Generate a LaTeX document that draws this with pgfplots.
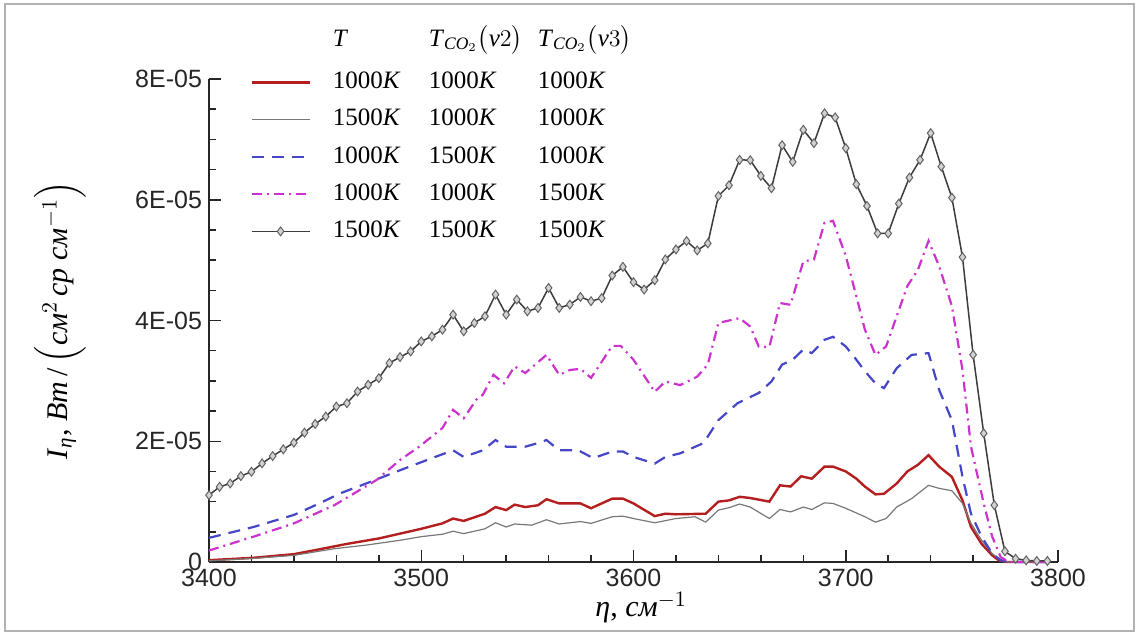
\documentclass[border=0pt]{standalone}
\usepackage{fontspec}
\setmainfont{Liberation Serif}
\newfontfamily\arial{Liberation Sans}
\usepackage{amsmath}
\usepackage{pgfplots}
\pgfplotsset{compat=1.18}

\definecolor{cred}{RGB}{180,30,30}
\definecolor{cgray}{RGB}{120,120,120}
\definecolor{cblue}{RGB}{70,70,200}
\definecolor{cmag}{RGB}{204,51,204}
\definecolor{cblk}{RGB}{60,60,60}

\newcommand{\lrow}[3]{\makebox[48pt][l]{#1}\makebox[54.5pt][l]{#2}#3}
\newcommand{\kk}[1]{#1\textit{K}}

\begin{document}
\begin{tikzpicture}
\useasboundingbox (0pt,0pt) rectangle (569pt,316pt);
\draw[gray!60, line width=1pt] (2.5pt,0.75pt) rectangle (567pt,314pt);
\begin{axis}[
  at={(104.5pt,35pt)}, anchor=south west,
  scale only axis, width=424.5pt, height=241.5pt,
  xmin=3400, xmax=3800, ymin=0, ymax=8,
  axis lines*=left,
  clip=false,
  xtick={3400,3500,3600,3700,3800},
  minor x tick num=4,
  ytick={0,2,4,6,8},
  yticklabels={0,2E-05,4E-05,6E-05,8E-05},
  minor y tick num=3,
  tick align=inside,
  major tick length=6pt, minor tick length=3.5pt,
  axis line style={line width=0.75pt, black!85},
  every tick/.style={line width=0.75pt, black!85},
  /pgf/number format/assume math mode=true,
  /pgf/number format/1000 sep={},
  ticklabel style={font=\arial\fontsize{12.5}{15}\selectfont, text=black!85},
  xlabel={\textit{η}, \textit{см}$^{-1}$},
  ylabel={\textit{I}$_{\textit{η}}$, \textit{Вт}\,/\,$\Big(\textit{см}^{2}\,\textit{ср}\;\textit{см}^{-1}\Big)$},
  label style={font=\fontsize{15}{18}\selectfont},
  xlabel style={at={(axis description cs:0.509,-0.095)}, anchor=center},
  ylabel style={at={(axis description cs:-0.1755,0.5)}, anchor=center},
  legend image code/.code={\draw[mark repeat=2,mark phase=2,#1] plot coordinates {(0pt,0pt) (14.5pt,0pt) (29pt,0pt)};},
  legend cell align=left,
  legend style={at={(axis description cs:0.0412,1.1077)}, anchor=north west,
    draw=none, fill=none, font=\fontsize{12.5}{15}\selectfont,
    nodes={inner sep=0pt, text height=10pt, text depth=4pt},
    column sep=11pt, row sep=4.6pt},
]
\addlegendimage{empty legend}
\addlegendentry{\raisebox{2.5pt}{\lrow{\textit{T}}{\textit{T}$_{\textit{CO}_{2}}\big(\textit{ν}2\big)$}{\textit{T}$_{\textit{CO}_{2}}\big(\textit{ν}3\big)$}}}

\addplot[cred, line width=1.2pt] coordinates {
(3400,0.03) (3421,0.07) (3440,0.13) (3452,0.21) (3465,0.30) (3480,0.39) (3490,0.47) (3500,0.55)
(3510,0.64) (3515,0.72) (3520,0.68) (3530,0.80) (3535,0.91) (3540,0.86) (3544,0.95) (3549,0.91)
(3555,0.94) (3559,1.04) (3565,0.97) (3575,0.97) (3580,0.89) (3590,1.05) (3595,1.05) (3600,0.97)
(3610,0.76) (3615,0.80) (3620,0.79) (3634,0.80) (3640,1.00) (3645,1.02) (3650,1.08) (3655,1.06)
(3664,1.00) (3669,1.27) (3674,1.25) (3679,1.42) (3684,1.38) (3690,1.58) (3694,1.58) (3700,1.50)
(3705,1.38) (3709,1.25) (3714,1.12) (3718,1.13) (3724,1.30) (3729,1.50) (3734,1.61) (3739,1.77)
(3744,1.58) (3750,1.41) (3755,1.02) (3759,0.58) (3764,0.30) (3769,0.11) (3772,0.03) (3776,0)
(3795,0)
};
\addlegendentry{\lrow{\kk{1000}}{\kk{1000}}{\kk{1000}}}

\addplot[cgray, line width=0.6pt] coordinates {
(3400,0.02) (3421,0.06) (3440,0.11) (3459,0.22) (3474,0.28) (3490,0.36) (3500,0.42) (3510,0.46)
(3515,0.51) (3520,0.47) (3530,0.55) (3535,0.65) (3540,0.58) (3544,0.63) (3552,0.61) (3559,0.70)
(3565,0.63) (3575,0.67) (3580,0.64) (3590,0.75) (3595,0.76) (3600,0.72) (3610,0.65) (3620,0.72)
(3629,0.75) (3634,0.66) (3640,0.86) (3645,0.90) (3650,0.96) (3655,0.91) (3664,0.72) (3669,0.87)
(3674,0.83) (3680,0.91) (3684,0.87) (3690,0.98) (3694,0.97) (3700,0.89) (3709,0.75) (3714,0.66)
(3719,0.72) (3724,0.91) (3731,1.05) (3739,1.27) (3744,1.22) (3750,1.18) (3755,0.97) (3759,0.64)
(3764,0.36) (3769,0.14) (3773,0.03) (3776,0) (3795,0)
};
\addlegendentry{\lrow{\kk{1500}}{\kk{1000}}{\kk{1000}}}

\addplot[cblue, line width=1.1pt, dash pattern=on 6pt off 4pt] coordinates {
(3400,0.40) (3421,0.58) (3440,0.78) (3452,0.97) (3462,1.14) (3474,1.30) (3490,1.52) (3505,1.72)
(3515,1.85) (3520,1.74) (3529,1.85) (3535,2.02) (3540,1.91) (3549,1.91) (3555,1.97) (3559,2.02)
(3565,1.85) (3574,1.85) (3581,1.72) (3590,1.83) (3595,1.83) (3600,1.74) (3610,1.63) (3615,1.74)
(3622,1.80) (3633,1.97) (3640,2.35) (3649,2.63) (3659,2.80) (3665,2.99) (3670,3.27) (3675,3.35)
(3680,3.52) (3684,3.46) (3690,3.68) (3694,3.73) (3700,3.57) (3705,3.35) (3709,3.16) (3714,2.96)
(3718,2.88) (3724,3.21) (3731,3.43) (3739,3.46) (3744,2.85) (3750,2.35) (3755,1.41) (3759,0.80)
(3764,0.42) (3769,0.14) (3773,0.03) (3777,0) (3795,0)
};
\addlegendentry{\lrow{\kk{1000}}{\kk{1500}}{\kk{1000}}}

\addplot[cmag, line width=1.1pt, dash pattern=on 5pt off 2.5pt on 1pt off 2.5pt] coordinates {
(3400,0.19) (3421,0.42) (3440,0.64) (3459,0.94) (3479,1.36) (3490,1.69) (3499,1.91) (3510,2.22)
(3515,2.52) (3520,2.38) (3526,2.69) (3529,2.77) (3534,3.10) (3539,2.96) (3544,3.24) (3549,3.13)
(3559,3.43) (3565,3.10) (3570,3.18) (3575,3.20) (3580,3.05) (3590,3.58) (3594,3.58) (3600,3.35)
(3610,2.82) (3615,2.99) (3622,2.93) (3630,3.07) (3635,3.27) (3640,3.96) (3650,4.04) (3655,3.90)
(3659,3.57) (3664,3.56) (3669,4.29) (3674,4.26) (3680,4.98) (3685,5.01) (3690,5.62) (3694,5.65)
(3700,5.07) (3705,4.40) (3709,3.85) (3714,3.43) (3719,3.57) (3729,4.57) (3734,4.84) (3739,5.32)
(3744,4.90) (3750,4.24) (3755,3.18) (3759,1.91) (3765,0.97) (3769,0.42) (3773,0.08) (3777,0)
(3795,0)
};
\addlegendentry{\lrow{\kk{1000}}{\kk{1000}}{\kk{1500}}}

\addplot[cblk, line width=0.75pt, mark=diamond*, mark size=2.2pt,
  mark options={fill=gray!35, draw=cblk!80, line width=0.5pt}] coordinates {
(3400,1.107) (3405,1.246) (3410,1.301) (3415,1.423) (3420,1.495) (3425,1.633) (3430,1.755) (3435,1.866)
(3440,1.977) (3445,2.143) (3450,2.287) (3455,2.409) (3460,2.575) (3465,2.630) (3470,2.824) (3475,2.935)
(3480,3.045) (3485,3.295) (3490,3.394) (3495,3.488) (3500,3.654) (3505,3.738) (3510,3.848) (3515,4.097)
(3520,3.821) (3525,3.959) (3530,4.070) (3535,4.430) (3540,4.097) (3545,4.347) (3550,4.153) (3555,4.208)
(3560,4.540) (3565,4.208) (3570,4.264) (3575,4.390) (3580,4.320) (3585,4.370) (3590,4.745) (3595,4.889)
(3600,4.635) (3605,4.513) (3610,4.668) (3615,5.011) (3620,5.177) (3625,5.316) (3630,5.161) (3635,5.277)
(3640,6.063) (3645,6.240) (3650,6.661) (3655,6.656) (3660,6.395) (3665,6.190) (3670,6.905) (3675,6.628)
(3680,7.159) (3685,6.938) (3690,7.431) (3695,7.364) (3700,6.855) (3705,6.257) (3710,5.897) (3715,5.443)
(3720,5.443) (3725,5.936) (3730,6.368) (3735,6.661) (3740,7.104) (3745,6.550) (3750,6.035) (3755,5.050)
(3760,3.433) (3765,2.132) (3770,0.941) (3775,0.177) (3780,0.055) (3785,0.028) (3790,0.017) (3795,0.017)
};
\addlegendentry{\lrow{\kk{1500}}{\kk{1500}}{\kk{1500}}}
\end{axis}
\end{tikzpicture}
\end{document}
